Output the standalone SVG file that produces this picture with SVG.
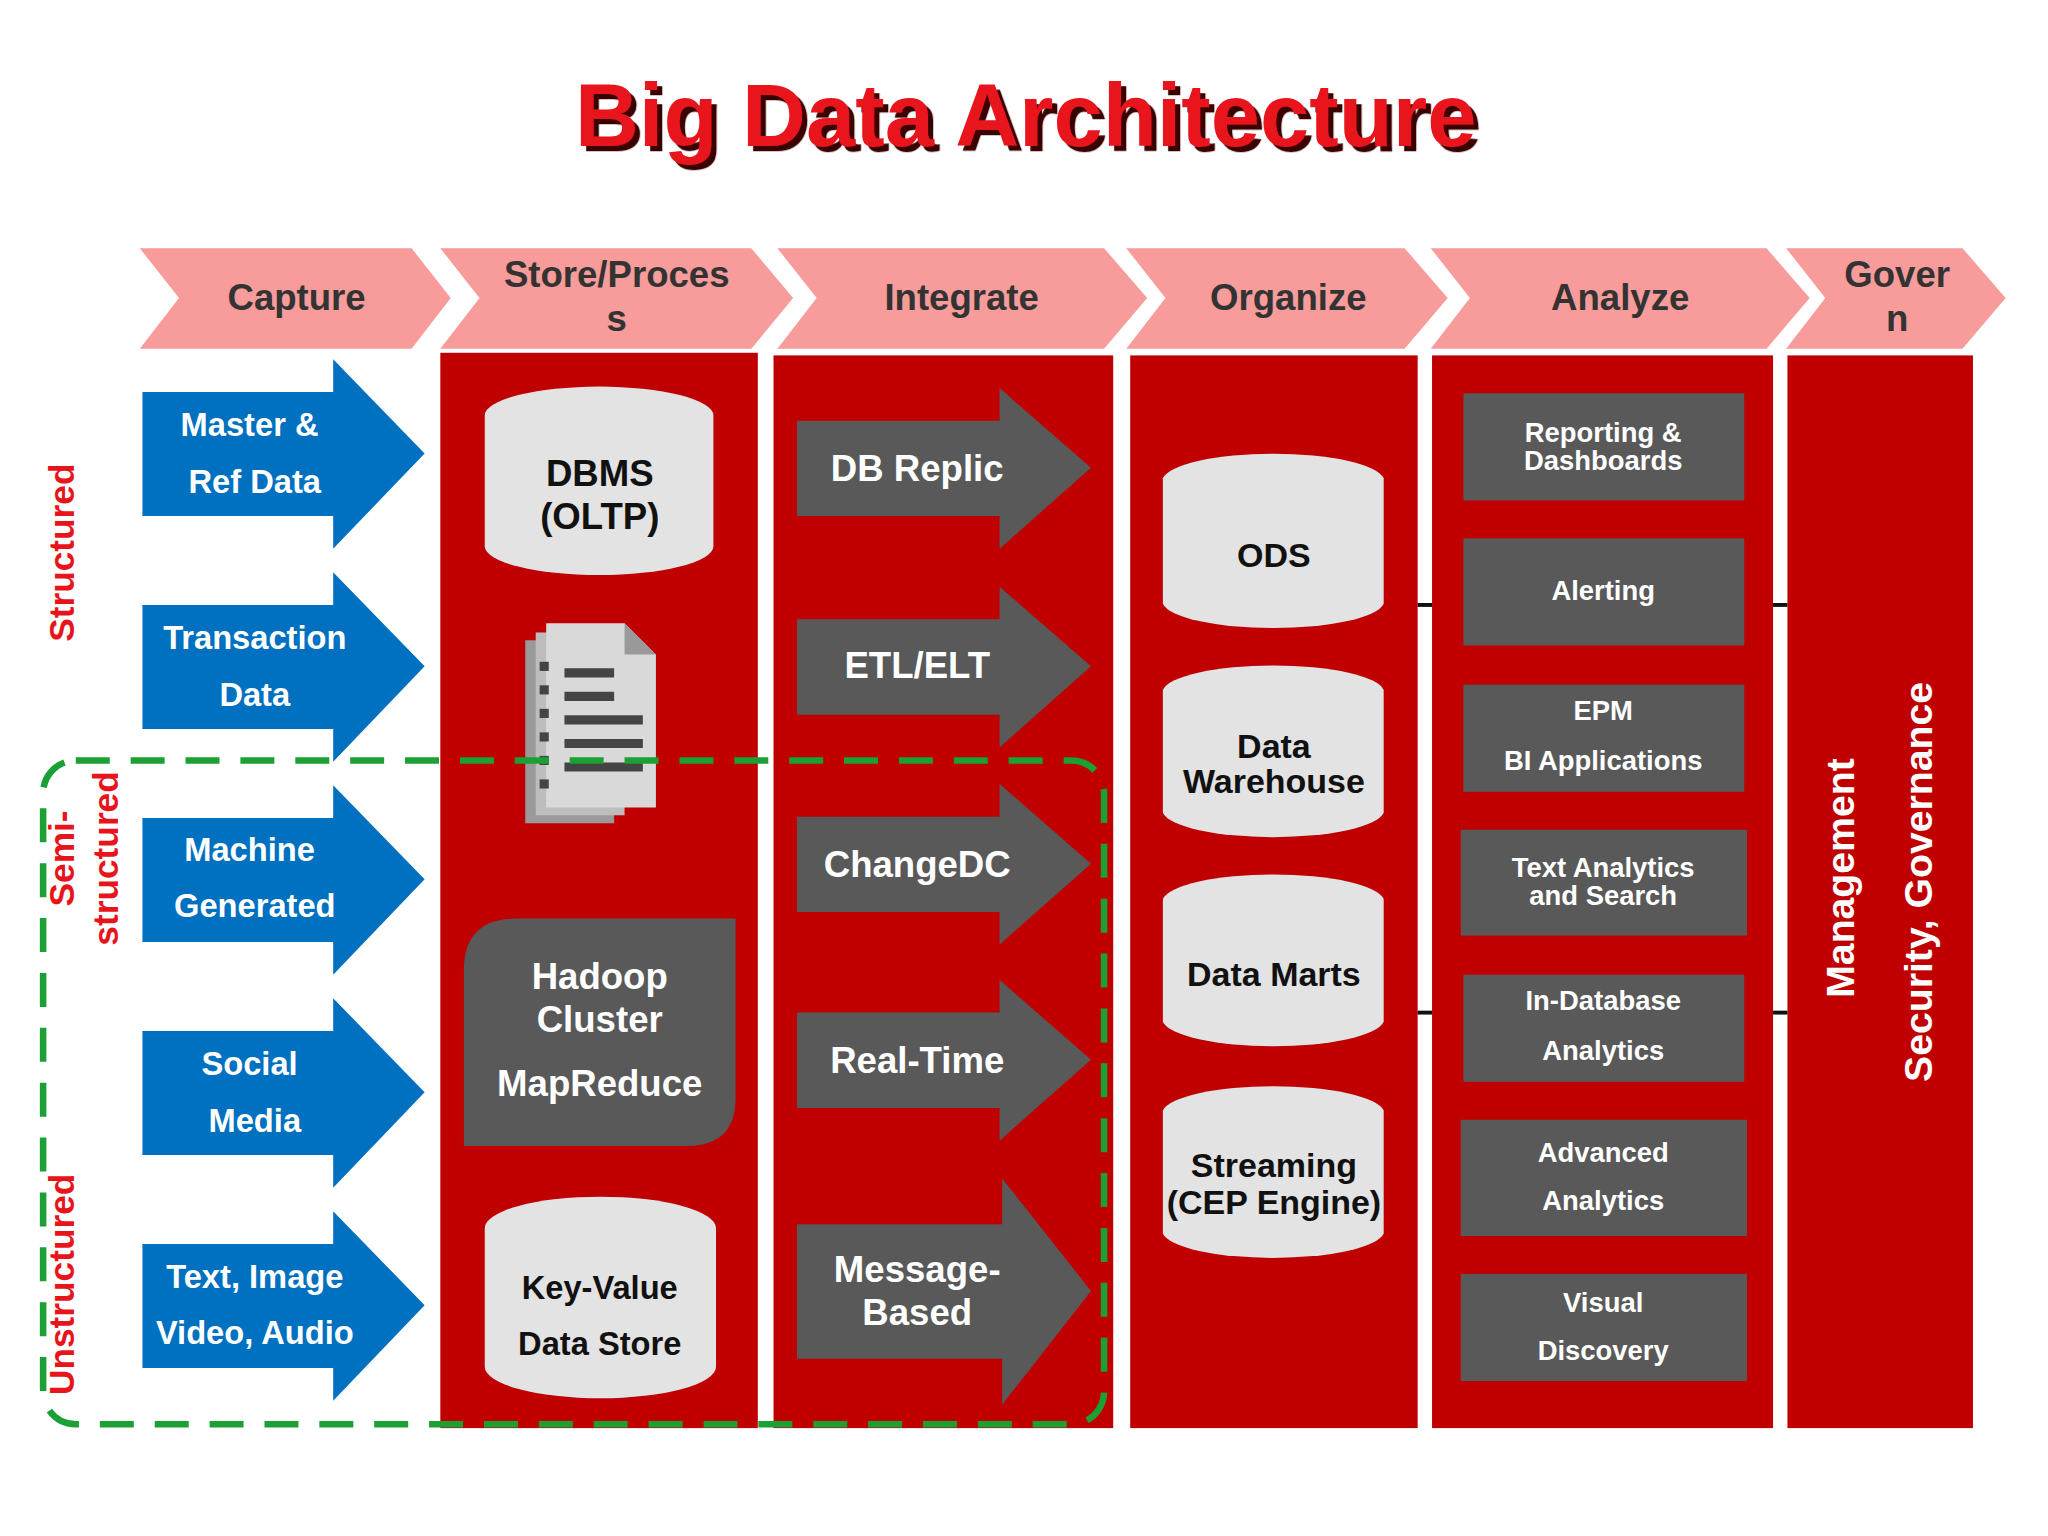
<svg xmlns="http://www.w3.org/2000/svg" width="2048" height="1536" viewBox="0 0 2048 1536">
<defs>
<filter id="sh" x="-5%" y="-20%" width="110%" height="140%"><feDropShadow dx="4" dy="4" stdDeviation="0.5" flood-color="#3a0000"/></filter>
<style>
.hd{fill:#F79B9B}
.col{fill:#C00000}
.blue{fill:#0070C0}
.gr{fill:#595959}
.cyl{fill:#E3E3E3}
.t{font-family:"Liberation Sans",Arial,sans-serif;font-weight:bold}
.ht{font-size:28px;fill:#333;text-anchor:middle}
.bt{font-size:25px;fill:#fff;text-anchor:middle}
.ct{font-size:28px;fill:#111;text-anchor:middle}
.at{font-size:21px;fill:#fff;text-anchor:middle}
.side{font-size:27px;fill:#E8141B;text-anchor:middle}
</style>
</defs>
<rect width="2048" height="1536" fill="#fff"/>
<g transform="scale(1.3066)">
<g id="title">
<text x="785" y="112" class="t" font-size="68" fill="#E8141B" text-anchor="middle" textLength="690" lengthAdjust="spacingAndGlyphs" filter="url(#sh)">Big Data Architecture</text>
</g>
<g id="headers">
<polygon class="hd" points="107,190 315,190 345,228 315,267 107,267 137,228"/>
<polygon class="hd" points="337,190 575,190 607,228 575,267 337,267 367,228"/>
<polygon class="hd" points="595,190 845,190 878,228 845,267 595,267 625,228"/>
<polygon class="hd" points="862,190 1075,190 1108,228 1075,267 862,267 892,228"/>
<polygon class="hd" points="1095,190 1352,190 1385,228 1352,267 1095,267 1125,228"/>
<polygon class="hd" points="1367,190 1502,190 1535,228 1502,267 1367,267 1397,228"/>
<text class="t ht" x="227" y="237">Capture</text>
<text class="t ht" x="472" y="220">Store/Proces</text>
<text class="t ht" x="472" y="253">s</text>
<text class="t ht" x="736" y="237">Integrate</text>
<text class="t ht" x="986" y="237">Organize</text>
<text class="t ht" x="1240" y="237">Analyze</text>
<text class="t ht" x="1452" y="220">Gover</text>
<text class="t ht" x="1452" y="253">n</text>
</g>
<g id="columns">
<rect class="col" x="337" y="270" width="243" height="823"/>
<rect class="col" x="592" y="272" width="260" height="821"/>
<rect class="col" x="865" y="272" width="220" height="821"/>
<rect class="col" x="1096" y="272" width="261" height="821"/>
<rect class="col" x="1368" y="272" width="142" height="821"/>
</g>
<g id="connectors" stroke="#111" stroke-width="3">
<line x1="1085" y1="463" x2="1096" y2="463"/>
<line x1="1085" y1="775" x2="1096" y2="775"/>
<line x1="1357" y1="463" x2="1368" y2="463"/>
<line x1="1357" y1="775" x2="1368" y2="775"/>
</g>
<g id="capture">
<polygon class="blue" points="109,300 255,300 255,275 325,347 255,420 255,395 109,395"/>
<polygon class="blue" points="109,463 255,463 255,438 325,510 255,583 255,558 109,558"/>
<polygon class="blue" points="109,626 255,626 255,601 325,673 255,746 255,721 109,721"/>
<polygon class="blue" points="109,789 255,789 255,764 325,836 255,909 255,884 109,884"/>
<polygon class="blue" points="109,952 255,952 255,927 325,999 255,1072 255,1047 109,1047"/>
<text class="t bt" x="191" y="334">Master &amp;</text><text class="t bt" x="195" y="377">Ref Data</text>
<text class="t bt" x="195" y="497">Transaction</text><text class="t bt" x="195" y="540">Data</text>
<text class="t bt" x="191" y="659">Machine</text><text class="t bt" x="195" y="702">Generated</text>
<text class="t bt" x="191" y="823">Social</text><text class="t bt" x="195" y="866">Media</text>
<text class="t bt" x="195" y="986">Text, Image</text><text class="t bt" x="195" y="1029">Video, Audio</text>
</g>
<g id="store">
<path class="cyl" d="M371,318 A87,22 0 0 1 546,318 L546,418 A87,22 0 0 1 371,418 Z"/>
<text class="t ct" x="459" y="372">DBMS</text><text class="t ct" x="459" y="405">(OLTP)</text>
<g id="doc">
<path d="M402,490 L470,490 L470,630 L402,630 Z" fill="#9a9a9a"/>
<path d="M410,484 L478,484 L478,624 L410,624 Z" fill="#bdbdbd"/>
<path d="M418,477 L478,477 L502,501 L502,618 L418,618 Z" fill="#d9d9d9"/>
<path d="M478,477 L478,501 L502,501 Z" fill="#999"/>
<g stroke="#444" stroke-width="7">
<line x1="413" y1="510" x2="420" y2="510"/><line x1="413" y1="528" x2="420" y2="528"/><line x1="413" y1="546" x2="420" y2="546"/><line x1="413" y1="564" x2="420" y2="564"/><line x1="413" y1="582" x2="420" y2="582"/><line x1="413" y1="600" x2="420" y2="600"/>
<line x1="432" y1="515" x2="470" y2="515"/><line x1="432" y1="533" x2="470" y2="533"/><line x1="432" y1="551" x2="492" y2="551"/><line x1="432" y1="569" x2="492" y2="569"/><line x1="432" y1="587" x2="492" y2="587"/>
</g>
</g>
<path class="gr" d="M395,703 L563,703 L563,840 Q563,877 526,877 L355,877 L355,743 Q355,703 395,703 Z"/>
<text class="t ct" x="459" y="757" style="fill:#fff">Hadoop</text>
<text class="t ct" x="459" y="790" style="fill:#fff">Cluster</text>
<text class="t ct" x="459" y="839" style="fill:#fff">MapReduce</text>
<path class="cyl" d="M371,940 A88,24 0 0 1 548,940 L548,1046 A88,24 0 0 1 371,1046 Z"/>
<text class="t ct" x="459" y="994" style="font-size:25px">Key-Value</text>
<text class="t ct" x="459" y="1037" style="font-size:25px">Data Store</text>
</g>
<g id="integrate">
<polygon class="gr" points="610,322 765,322 765,297 835,358 765,420 765,395 610,395"/>
<polygon class="gr" points="610,474 765,474 765,449 835,510 765,572 765,547 610,547"/>
<polygon class="gr" points="610,625 765,625 765,600 835,661 765,723 765,698 610,698"/>
<polygon class="gr" points="610,775 765,775 765,750 835,811 765,873 765,848 610,848"/>
<polygon class="gr" points="610,937 767,937 767,902 835,988 767,1075 767,1040 610,1040"/>
<g class="t" font-size="28" fill="#fff" text-anchor="middle">
<text x="702" y="368">DB Replic</text>
<text x="702" y="519">ETL/ELT</text>
<text x="702" y="671">ChangeDC</text>
<text x="702" y="821">Real-Time</text>
<text x="702" y="981">Message-</text>
<text x="702" y="1014">Based</text>
</g>
</g>
<g id="organize">
<path class="cyl" d="M890,366 A85,21 0 0 1 1059,366 L1059,462 A85,21 0 0 1 890,462 Z"/>
<path class="cyl" d="M890,528 A85,21 0 0 1 1059,528 L1059,622 A85,21 0 0 1 890,622 Z"/>
<path class="cyl" d="M890,688 A85,21 0 0 1 1059,688 L1059,782 A85,21 0 0 1 890,782 Z"/>
<path class="cyl" d="M890,850 A85,21 0 0 1 1059,850 L1059,944 A85,21 0 0 1 890,944 Z"/>
<g class="t" font-size="26" fill="#111" text-anchor="middle">
<text x="975" y="434">ODS</text>
<text x="975" y="580">Data</text><text x="975" y="607">Warehouse</text>
<text x="975" y="755">Data Marts</text>
<text x="975" y="901">Streaming</text><text x="975" y="929">(CEP Engine)</text>
</g>
</g>
<g id="analyze">
<rect class="gr" x="1120" y="301" width="215" height="82"/>
<rect class="gr" x="1120" y="412" width="215" height="82"/>
<rect class="gr" x="1120" y="524" width="215" height="82"/>
<rect class="gr" x="1118" y="635" width="219" height="81"/>
<rect class="gr" x="1120" y="746" width="215" height="82"/>
<rect class="gr" x="1118" y="857" width="219" height="89"/>
<rect class="gr" x="1118" y="975" width="219" height="82"/>
<text class="t at" x="1227" y="338">Reporting &amp;</text><text class="t at" x="1227" y="360">Dashboards</text>
<text class="t at" x="1227" y="459">Alerting</text>
<text class="t at" x="1227" y="551">EPM</text><text class="t at" x="1227" y="589">BI Applications</text>
<text class="t at" x="1227" y="671">Text Analytics</text><text class="t at" x="1227" y="693">and Search</text>
<text class="t at" x="1227" y="773">In-Database</text><text class="t at" x="1227" y="811">Analytics</text>
<text class="t at" x="1227" y="889">Advanced</text><text class="t at" x="1227" y="926">Analytics</text>
<text class="t at" x="1227" y="1004">Visual</text><text class="t at" x="1227" y="1041">Discovery</text>
</g>
<g id="govern" class="t" font-size="30" fill="#fff" text-anchor="middle">
<text transform="translate(1419,672) rotate(-90)">Management</text>
<text transform="translate(1479,675) rotate(-90)">Security, Governance</text>
</g>
<g id="sidelabels">
<text class="t side" transform="translate(57,423) rotate(-90)">Structured</text>
<text class="t side" transform="translate(57,657) rotate(-90)">Semi-</text>
<text class="t side" transform="translate(90,657) rotate(-90)">structured</text>
<text class="t side" transform="translate(57,983) rotate(-90)">Unstructured</text>
</g>
<g id="region">
<rect x="33" y="582" width="812" height="508" rx="25" fill="none" stroke="#1BA035" stroke-width="5" stroke-dasharray="26,16"/>
</g>
</g>
</svg>
